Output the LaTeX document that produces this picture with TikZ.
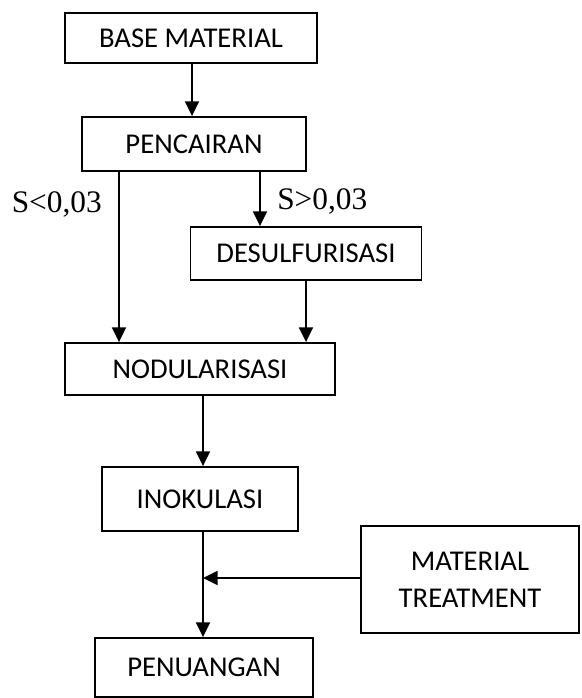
\documentclass[tikz,border=0pt]{standalone}
\usepackage{fontspec}
\setmainfont{Carlito}
\newfontfamily\serifS{Liberation Serif}
\usetikzlibrary{arrows.meta}

\begin{document}
\begin{tikzpicture}[x=0.75pt,y=-0.75pt,
    boite/.style={draw, line width=1.4pt, font=\fontsize{21.5}{25}\selectfont, align=center, inner sep=0pt},
    fleche/.style={line width=1.2pt, -{Triangle[length=11pt,width=10.5pt]}},
    seuil/.style={font=\serifS\fontsize{23.5}{25}\selectfont}]
\useasboundingbox (0,0) rectangle (581,698);
% boites
\node[boite, minimum width=189pt, minimum height=37.5pt] (base) at (191,38) {BASE MATERIAL};
\node[boite, minimum width=168pt, minimum height=40.5pt] (penc) at (194,144) {PENCAIRAN};
\node[boite, minimum width=173.25pt, minimum height=39.75pt] (desul) at (306,253.5) {DESULFURISASI};
\node[boite, minimum width=202.5pt, minimum height=39pt] (nodul) at (200,369) {NODULARISASI};
\node[boite, minimum width=147pt, minimum height=48pt] (inok) at (200,499) {INOKULASI};
\node[boite, minimum width=163.5pt, minimum height=80.25pt] (treat) at (470,579.5) {MATERIAL\\[3pt]TREATMENT};
\node[boite, minimum width=163.5pt, minimum height=44.25pt] (penu) at (204,667.5) {PENUANGAN};
% colonnes des fleches
\coordinate (c0) at (192,0);
\coordinate (c1) at (119,0);
\coordinate (c2) at (260,0);
\coordinate (c3) at (203,0);
\coordinate (j) at (203,578);
% fleches
\draw[fleche] (base.south -| c0) -- (penc.north -| c0);
\draw[fleche] (penc.south -| c1) -- (nodul.north -| c1) node[seuil, pos=0.19, left=9pt] {S<0,03};
\draw[fleche] (penc.south -| c2) -- (desul.north -| c2) node[seuil, pos=0.55, right=9pt] {S>0,03};
\draw[fleche] (desul.south) -- (nodul.north -| desul.south);
\draw[fleche] (nodul.south -| c3) -- (inok.north -| c3);
\draw[fleche] (inok.south -| c3) -- (penu.north -| c3);
\draw[fleche] (treat.west |- j) -- (j);
\end{tikzpicture}
\end{document}
